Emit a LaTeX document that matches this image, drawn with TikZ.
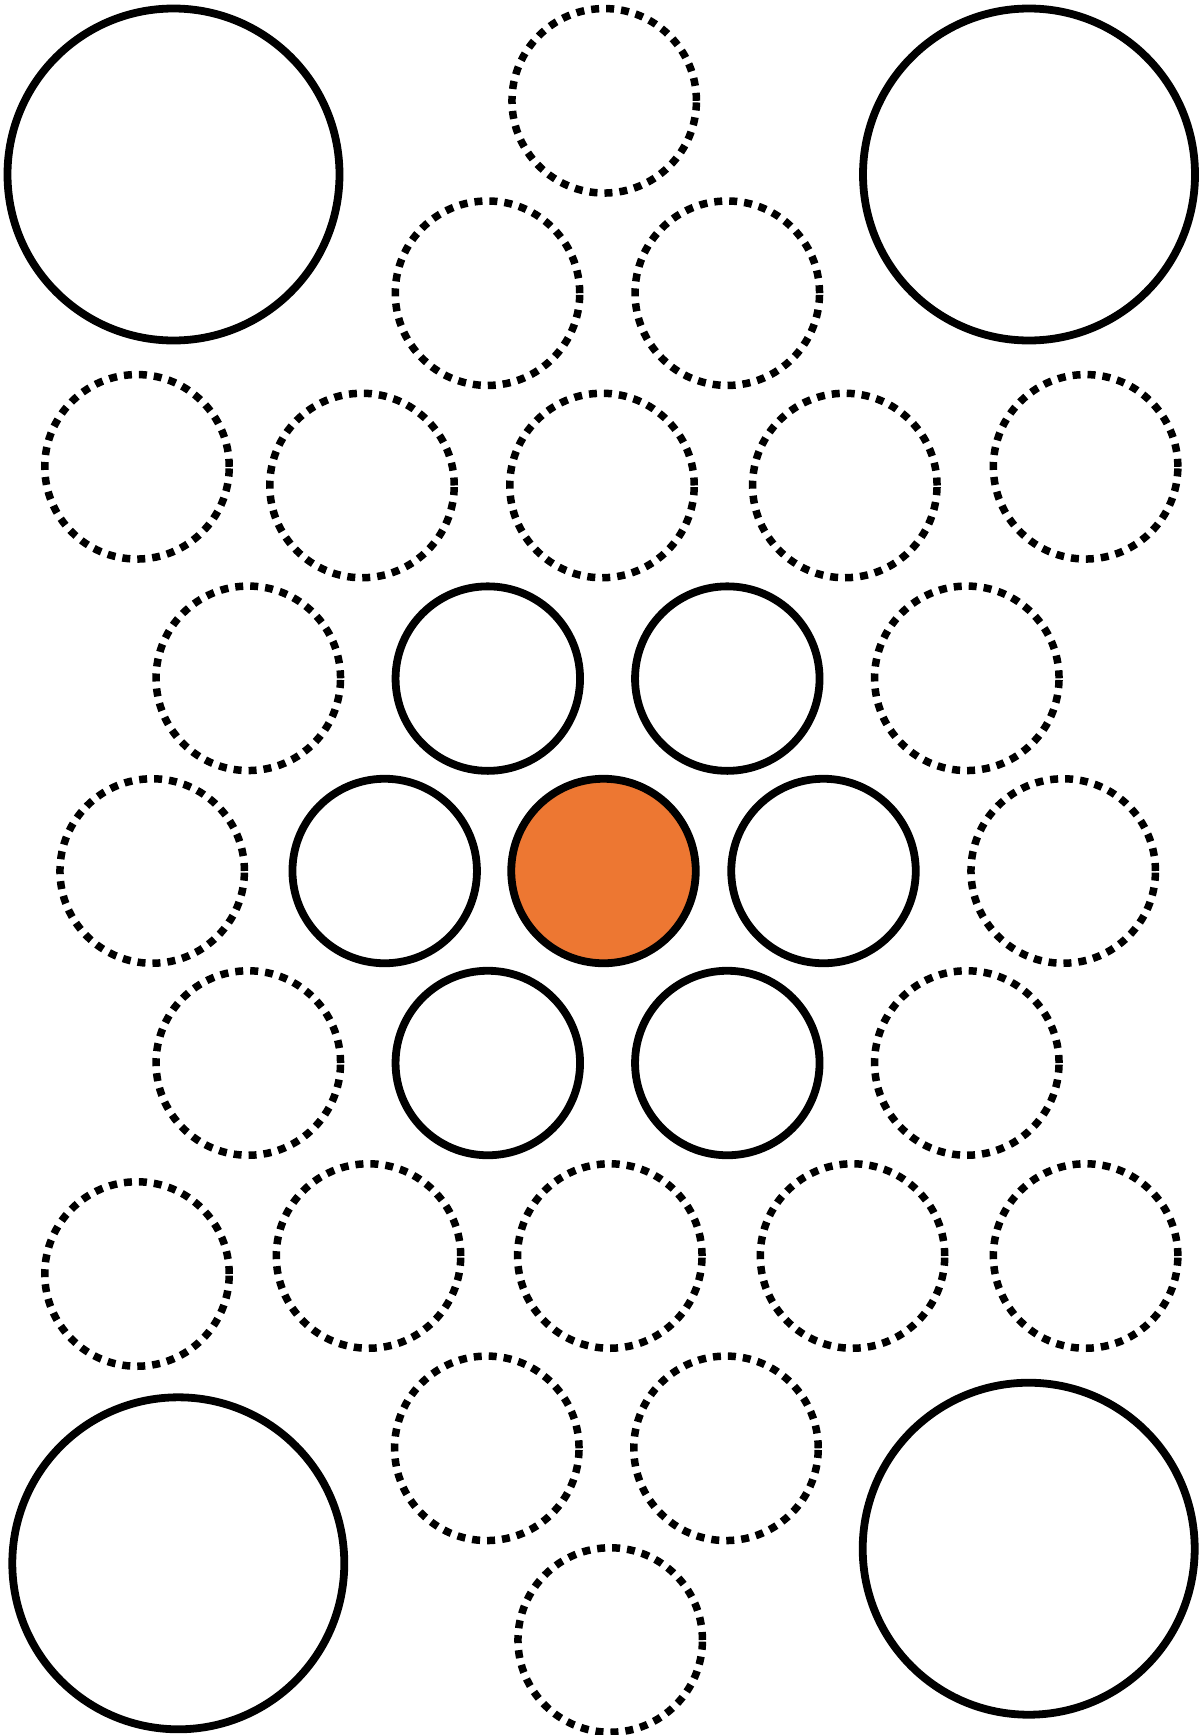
\documentclass[tikz,border=0pt]{standalone}
\usetikzlibrary{shapes.geometric}
\definecolor{coreorange}{RGB}{237,119,50}
\tikzset{
  bigring/.style={circle, draw=black, line width=7.8pt, minimum size=332pt, inner sep=0pt},
  ring/.style={circle, draw=black, line width=7.8pt, minimum size=184.5pt, inner sep=0pt},
  core/.style={ring, fill=coreorange},
  dotring/.style={circle, draw=black, line width=7.5pt, minimum size=184.5pt, inner sep=0pt,
    dash pattern=on 8pt off 7pt},
}
\begin{document}
\begin{tikzpicture}[x=1pt,y=-1pt]
\useasboundingbox[fill=white] (0,0) rectangle (1199,1735);
% large corner rings
\node[bigring] (tl) at (173.5,174.5) {};
\node[bigring] (tr) at (1029,174.5) {};
\node[bigring] (bl) at (178.3,1563.3) {};
\node[bigring] (br) at (1028.7,1548.7) {};
% inner hexagon
\node[ring] (h1) at (487.8,678.6) {};
\node[ring] (h2) at (727.3,678.6) {};
\node[ring] (h3) at (384.7,871) {};
\node[core] (c) at (603.5,871) {};
\node[ring] (h4) at (823.5,871) {};
\node[ring] (h5) at (487.8,1063) {};
\node[ring] (h6) at (727.3,1063) {};
% dotted rings
\node[dotring] (d1) at (604.2,100.8) {};
\node[dotring] (d2) at (487.5,293.2) {};
\node[dotring] (d3) at (727.3,293.2) {};
\node[dotring] (d4) at (137,466.8) {};
\node[dotring] (d5) at (362,485.5) {};
\node[dotring] (d6) at (602,485.5) {};
\node[dotring] (d7) at (844.8,485.5) {};
\node[dotring] (d8) at (1085.6,466.8) {};
\node[dotring] (d9) at (248.3,678.3) {};
\node[dotring] (d10) at (966.8,678.3) {};
\node[dotring] (d11) at (152.2,871) {};
\node[dotring] (d12) at (1063.2,871) {};
\node[dotring] (d13) at (248.3,1063) {};
\node[dotring] (d14) at (966.8,1063) {};
\node[dotring] (d15) at (137,1274) {};
\node[dotring] (d16) at (368.5,1256) {};
\node[dotring] (d17) at (609.8,1256) {};
\node[dotring] (d18) at (852.5,1256) {};
\node[dotring] (d19) at (1085.6,1256) {};
\node[dotring] (d20) at (486.8,1448.3) {};
\node[dotring] (d21) at (726,1448.3) {};
\node[dotring] (d22) at (610.2,1640) {};
\end{tikzpicture}
\end{document}
